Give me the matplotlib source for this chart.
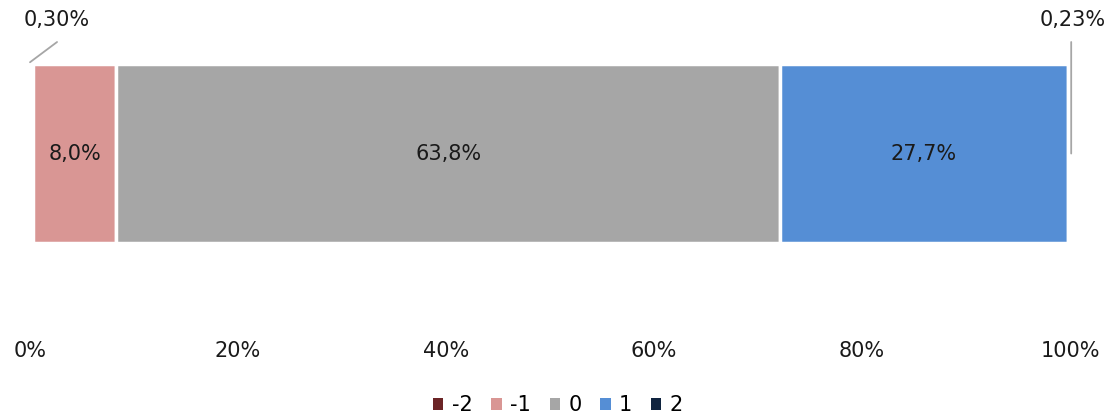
import matplotlib.pyplot as plt
from matplotlib.patches import Patch

plt.rcParams['font.family'] = ['DejaVu Sans']

categories = ['-2', '-1', '0', '1', '2']
shares = [0.30, 8.0, 63.8, 27.7, 0.23]
share_labels = ['0,30%', '8,0%', '63,8%', '27,7%', '0,23%']
colors = ['#6B2426', '#D99694', '#A6A6A6', '#558ED5', '#10243F']
ticks = [0, 20, 40, 60, 80, 100]
tick_labels = ['0%', '20%', '40%', '60%', '80%', '100%']

FS = 15
TXT = '#1a1a1a'

fig = plt.figure(figsize=(11.16, 4.16), dpi=100)
ax = fig.add_axes([30 / 1116, 1 - 330 / 416, 1040 / 1116, 310 / 416])

left = 0
for cat, val, lab, col in zip(categories, shares, share_labels, colors):
    ax.barh(0, val, left=left, height=1.0, color=col, edgecolor='white',
            linewidth=2.5, label=cat)
    mid = left + val / 2
    if val > 5:
        ax.text(mid, 0, lab, ha='center', va='center', fontsize=FS, color=TXT)
    left += val

# small segments get callout labels with leader lines
line_style = dict(arrowstyle='-', color='#A6A6A6', lw=1.3, shrinkA=0, shrinkB=0)
first_x = 2.6
ax.annotate('', xy=(shares[0] / 2 - 0.15, 0.51), xytext=(first_x, 0.623),
            arrowprops=line_style, annotation_clip=False)
ax.text(first_x, 0.745, share_labels[0], ha='center', va='center',
        fontsize=FS, color=TXT)

end_mid = left - shares[4] / 2
ax.annotate('', xy=(end_mid + 0.2, 0.0), xytext=(end_mid + 0.2, 0.623),
            arrowprops=line_style, annotation_clip=False)
ax.text(end_mid + 0.3, 0.745, share_labels[4], ha='center', va='center',
        fontsize=FS, color=TXT)

ax.set_xlim(0, 100)
ax.set_ylim(-0.986, 0.746)
ax.set_xticks(ticks)
ax.set_xticklabels(tick_labels, fontsize=FS, color=TXT)
ax.set_yticks([])
ax.tick_params(axis='x', length=0, pad=8)
for s in ax.spines.values():
    s.set_visible(False)

handles = [Patch(facecolor=c, edgecolor='none') for c in colors]
fig.legend(handles, categories, loc='center', bbox_to_anchor=(558 / 1116, 1 - 405 / 416),
           ncol=5, frameon=False, fontsize=FS, handlelength=0.5, handleheight=0.5,
           handletextpad=0.4, columnspacing=0.9)

fig.savefig('out.png', dpi=100)
